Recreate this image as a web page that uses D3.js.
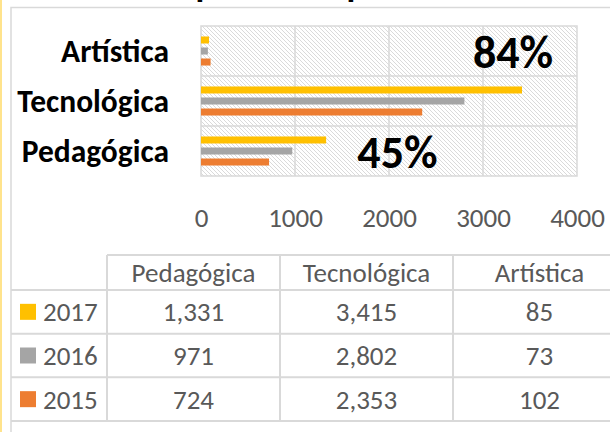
<!DOCTYPE html>
<html>
<head>
<meta charset="utf-8">
<script src="https://cdn.jsdelivr.net/npm/d3@7"></script>
<style>
  body { margin: 0; background: #fff; }
  svg { display: block; }
  text { font-family: Carlito, Lato, "Open Sans", sans-serif; }
</style>
</head>
<body>
<svg id="chart"></svg>
<script>
// chart data
const categories = ["Artística", "Tecnológica", "Pedagógica"];
const tableCategories = ["Pedagógica", "Tecnológica", "Artística"];
const years = ["2017", "2016", "2015"];
const values2017 = [85, 3415, 1331];
const values2016 = [73, 2802, 971];
const values2015 = [102, 2353, 724];
const xTicks = [0, 1000, 2000, 3000, 4000];
const notes = [
    { cat: "Artística", text: "84%", at: 3320 },
    { cat: "Pedagógica", text: "45%", at: 2090 }
];
const title = "Competencias por área";

const colors = { "2017": "#FFC000", "2016": "#A5A5A5", "2015": "#ED7D31" };
const seriesValues = { "2017": values2017, "2016": values2016, "2015": values2015 };

const W = 610, H = 432;
const plot = { left: 201, right: 577, top: 26, bottom: 176 };
const gridColor = "#D9D9D9";
const textGray = "#595959";

const svg = d3.select("#chart").attr("width", W).attr("height", H);

svg.append("rect").attr("width", W).attr("height", H).attr("fill", "#fff");

// hatch pattern for plot area
const defs = svg.append("defs");
defs.append("pattern")
    .attr("id", "hatch")
    .attr("patternUnits", "userSpaceOnUse")
    .attr("width", 4).attr("height", 4)
    .append("path")
    .attr("d", "M-1,-1 L5,5 M-1,3 L1,5 M3,-1 L5,1")
    .attr("stroke", "#dadada")
    .attr("stroke-width", 1);

// page frame + chart border
svg.append("line")
    .attr("x1", 1).attr("x2", 1).attr("y1", 0).attr("y2", H)
    .attr("stroke", "#FFE38C").attr("stroke-width", 2);
svg.append("rect")
    .attr("x", 11).attr("y", 7.5)
    .attr("width", 700).attr("height", 600)
    .attr("fill", "none").attr("stroke", gridColor).attr("stroke-width", 1.5);

// title (mostly off the top, as in the source image)
svg.append("text")
    .attr("x", 300).attr("y", -4)
    .attr("text-anchor", "middle")
    .attr("font-weight", "bold")
    .attr("font-size", 36)
    .attr("fill", "#000")
    .text(title);

const x = d3.scaleLinear().domain([0, 4000]).range([plot.left, plot.right]);
const y = d3.scaleBand().domain(categories).range([plot.top, plot.bottom]);
const yInner = d3.scaleBand().domain(years)
    .range([0, y.bandwidth()])
    .paddingInner(4 / 11).paddingOuter(0.95);

// plot background
svg.append("rect")
    .attr("x", plot.left).attr("y", plot.top)
    .attr("width", plot.right - plot.left).attr("height", plot.bottom - plot.top)
    .attr("fill", "url(#hatch)")
    .attr("stroke", gridColor).attr("stroke-width", 1.5);

// gridlines
svg.append("g").selectAll("line")
    .data(xTicks.slice(1, -1))
    .join("line")
    .attr("x1", d => x(d)).attr("x2", d => x(d))
    .attr("y1", plot.top).attr("y2", plot.bottom)
    .attr("stroke", gridColor).attr("stroke-width", 1.5);
svg.append("g").selectAll("line")
    .data(categories.slice(1))
    .join("line")
    .attr("x1", plot.left).attr("x2", plot.right)
    .attr("y1", d => y(d)).attr("y2", d => y(d))
    .attr("stroke", gridColor).attr("stroke-width", 1.5);

// bars
const groups = svg.append("g").selectAll("g")
    .data(categories)
    .join("g")
    .attr("transform", d => "translate(0," + y(d) + ")");
groups.selectAll("rect")
    .data((c, i) => years.map(yr => ({ year: yr, value: seriesValues[yr][i] })))
    .join("rect")
    .attr("x", x(0))
    .attr("y", d => yInner(d.year))
    .attr("width", d => x(d.value) - x(0))
    .attr("height", yInner.bandwidth())
    .attr("fill", d => colors[d.year]);

// category labels
svg.append("g").selectAll("text")
    .data(categories)
    .join("text")
    .attr("x", 169)
    .attr("y", d => y(d) + y.bandwidth() / 2)
    .attr("dy", "0.35em")
    .attr("text-anchor", "end")
    .attr("font-weight", "bold")
    .attr("font-size", 31.5)
    .attr("fill", "#000")
    .text(d => d);

// percent notes
svg.append("g").selectAll("text")
    .data(notes)
    .join("text")
    .attr("x", d => x(d.at))
    .attr("y", d => y(d.cat) + y.bandwidth() / 2)
    .attr("dy", "0.36em")
    .attr("text-anchor", "middle")
    .attr("font-weight", "bold")
    .attr("font-size", 46)
    .attr("fill", "#000")
    .text(d => d.text);

// x axis
const xAxis = d3.axisBottom(x)
    .tickValues(xTicks)
    .tickFormat(d3.format("d"))
    .tickSize(0)
    .tickPadding(32);
const axisG = svg.append("g")
    .attr("transform", "translate(0," + plot.bottom + ")")
    .call(xAxis);
axisG.select(".domain").remove();
axisG.selectAll("text")
    .attr("font-family", null)
    .attr("font-size", 27)
    .attr("fill", textGray);

// data table
const tableTop = 255;
const col = d3.scaleBand().domain(tableCategories).range([107, 626]);
const row = d3.scaleBand().domain(years).range([290, 421]);
const tbl = svg.append("g");

tbl.append("line")
    .attr("x1", 107).attr("x2", W).attr("y1", tableTop).attr("y2", tableTop)
    .attr("stroke", gridColor).attr("stroke-width", 2);
tbl.selectAll("line.h")
    .data(years.map(yr => row(yr)).concat([row.range()[1]]))
    .join("line")
    .attr("class", "h")
    .attr("x1", 11).attr("x2", W)
    .attr("y1", d => d).attr("y2", d => d)
    .attr("stroke", gridColor).attr("stroke-width", 2);
tbl.selectAll("line.v")
    .data(tableCategories.map(c => col(c)))
    .join("line")
    .attr("class", "v")
    .attr("x1", d => d).attr("x2", d => d)
    .attr("y1", tableTop).attr("y2", row.range()[1])
    .attr("stroke", gridColor).attr("stroke-width", 2);

tbl.selectAll("text.head")
    .data(tableCategories)
    .join("text")
    .attr("class", "head")
    .attr("x", d => col(d) + col.bandwidth() / 2)
    .attr("y", (tableTop + row.range()[0]) / 2)
    .attr("dy", "0.35em")
    .attr("text-anchor", "middle")
    .attr("font-size", 27)
    .attr("fill", textGray)
    .text(d => d);

const fmt = d3.format(",");
const rows = tbl.selectAll("g.row")
    .data(years)
    .join("g")
    .attr("class", "row")
    .attr("transform", d => "translate(0," + (row(d) + row.bandwidth() / 2) + ")");
rows.append("rect")
    .attr("x", 20).attr("y", -8)
    .attr("width", 16).attr("height", 16)
    .attr("fill", d => colors[d]);
rows.append("text")
    .attr("x", 43)
    .attr("dy", "0.35em")
    .attr("font-size", 27)
    .attr("fill", textGray)
    .text(d => d);
rows.selectAll("text.val")
    .data(yr => tableCategories.map(c => ({ c: c, v: seriesValues[yr][categories.indexOf(c)] })))
    .join("text")
    .attr("class", "val")
    .attr("x", d => col(d.c) + col.bandwidth() / 2)
    .attr("dy", "0.35em")
    .attr("text-anchor", "middle")
    .attr("font-size", 27)
    .attr("fill", textGray)
    .text(d => fmt(d.v));
</script>
</body>
</html>
